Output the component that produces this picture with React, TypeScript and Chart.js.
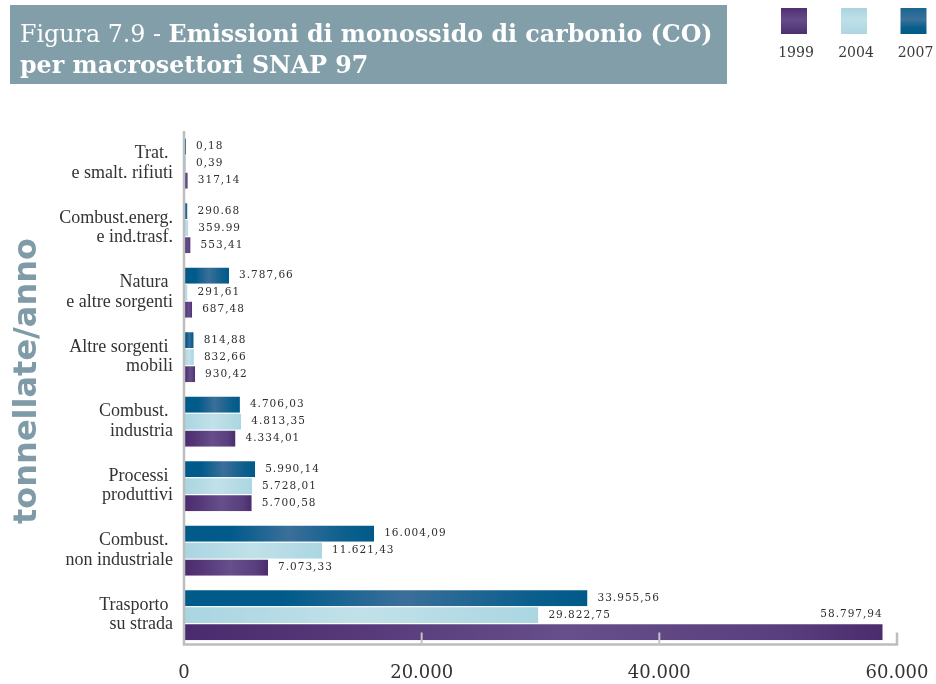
import React, { useEffect, useRef } from 'react';
import { Chart, registerables } from 'chart.js';

Chart.register(...registerables);

// ---------- data ----------
const CATEGORIES: string[][] = [
  ['Trat. ', 'e smalt. rifiuti'],
  ['Combust.energ.', 'e ind.trasf.'],
  ['Natura ', 'e altre sorgenti'],
  ['Altre sorgenti ', 'mobili'],
  ['Combust. ', 'industria'],
  ['Processi ', 'produttivi'],
  ['Combust. ', 'non industriale'],
  ['Trasporto ', 'su strada'],
];

const YEARS = ['1999', '2004', '2007'];

const VALUES_2007 = [0.18, 290.68, 3787.66, 814.88, 4706.03, 5990.14, 16004.09, 33955.56];
const VALUES_2004 = [0.39, 359.99, 291.61, 832.66, 4813.35, 5728.01, 11621.43, 29822.75];
const VALUES_1999 = [317.14, 553.41, 687.48, 930.42, 4334.01, 5700.58, 7073.33, 58797.94];

const LABELS_2007 = ['0,18', '290.68', '3.787,66', '814,88', '4.706,03', '5.990,14', '16.004,09', '33.955,56'];
const LABELS_2004 = ['0,39', '359.99', '291,61', '832,66', '4.813,35', '5.728,01', '11.621,43', '29.822,75'];
const LABELS_1999 = ['317,14', '553,41', '687,48', '930,42', '4.334,01', '5.700,58', '7.073,33', '58.797,94'];

const X_TICK_LABELS = ['0', '20.000', '40.000', '60.000'];

const TITLE_PREFIX = 'Figura 7.9 - ';
const TITLE_LINE1 = 'Emissioni di monossido di carbonio (CO)';
const TITLE_LINE2 = 'per macrosettori SNAP 97';
const Y_TITLE = 'tonnellate/anno';

// ---------- styles ----------
const STOPS_2007: [number, string][] = [[0, '#005a8a'], [0.25, '#005b8b'], [0.55, '#3b6f99'], [0.85, '#0c5f8d'], [1, '#005a89']];
const STOPS_2004: [number, string][] = [[0, '#a9d5e1'], [0.5, '#c1e1e9'], [1, '#abd6e1']];
const STOPS_1999: [number, string][] = [[0, '#4a2b6d'], [0.25, '#57397a'], [0.55, '#664f8a'], [0.85, '#5a3f7e'], [1, '#4b2c6e']];

function barGradient(stops: [number, string][]) {
  return (context: any) => {
    const chart = context.chart;
    const scales = chart.scales;
    if (!chart.chartArea || !scales || !scales.x || context.type !== 'data') return stops[0][1];
    const x0 = scales.x.getPixelForValue(0);
    const x1 = Math.max(scales.x.getPixelForValue(context.raw), x0 + 2);
    const g = chart.ctx.createLinearGradient(x0, 0, x1, 0);
    stops.forEach(([o, c]) => g.addColorStop(o, c));
    return g;
  };
}

const headerPlugin = {
  id: 'header',
  beforeDraw(chart: any) {
    const ctx = chart.ctx;
    ctx.save();
    // title box
    ctx.fillStyle = '#819ea9';
    ctx.fillRect(10, 5, 717, 79);
    // title text, fitted to the box width
    const target = 693;
    let size = 22;
    const measure = (s: number) => {
      ctx.font = `normal ${s}px "DejaVu Serif"`;
      const a = ctx.measureText(TITLE_PREFIX).width;
      ctx.font = `bold ${s}px "DejaVu Serif"`;
      const b = ctx.measureText(TITLE_LINE1).width;
      return a + b;
    };
    size = size * target / measure(size);
    ctx.fillStyle = '#ffffff';
    ctx.textBaseline = 'alphabetic';
    ctx.textAlign = 'left';
    ctx.font = `normal ${size}px "DejaVu Serif"`;
    ctx.fillText(TITLE_PREFIX, 20, 42);
    const pw = ctx.measureText(TITLE_PREFIX).width;
    ctx.font = `bold ${size}px "DejaVu Serif"`;
    ctx.fillText(TITLE_LINE1, 20 + pw, 42);
    ctx.fillText(TITLE_LINE2, 20, 73);

    // legend
    const legend = [
      { label: YEARS[0], stops: [[0, '#4e3072'], [0.45, '#654b8a'], [1, '#4d2f70']] },
      { label: YEARS[1], stops: [[0, '#a8d4e0'], [0.45, '#bfe0e8'], [1, '#acd6e1']] },
      { label: YEARS[2], stops: [[0, '#1a6590'], [0.45, '#3a729a'], [0.75, '#0a5e8c'], [1, '#005a89']] },
    ];
    const centers = [794, 854, 913.5];
    legend.forEach((item, i) => {
      const cx = centers[i];
      const g = ctx.createLinearGradient(0, 8, 0, 34);
      (item.stops as [number, string][]).forEach(([o, c]) => g.addColorStop(o, c));
      ctx.fillStyle = g;
      ctx.fillRect(cx - 13, 8, 26, 26);
      ctx.fillStyle = '#3a3a3a';
      ctx.font = '14px "DejaVu Serif"';
      ctx.textAlign = 'center';
      ctx.textBaseline = 'middle';
      ctx.fillText(item.label, cx + 2, 53);
    });

    // y axis title
    ctx.save();
    ctx.translate(36, 381);
    ctx.rotate(-Math.PI / 2);
    ctx.font = 'bold 32px "DejaVu Sans"';
    ctx.fillStyle = '#7f9ba8';
    ctx.textAlign = 'center';
    ctx.textBaseline = 'alphabetic';
    ctx.fillText(Y_TITLE, 0, 0);
    ctx.restore();

    ctx.restore();
  },
};

const framePlugin = {
  id: 'frame',
  afterDatasetsDraw(chart: any) {
    const { ctx, chartArea } = chart;
    const xs = chart.scales.x;
    const left = chartArea.left;
    const right = xs.getPixelForValue(60000);
    const bottom = chartArea.bottom - 2.5;
    ctx.save();
    ctx.strokeStyle = '#bdbdbd';
    ctx.lineWidth = 2.5;
    ctx.beginPath();
    ctx.moveTo(left, chartArea.top);
    ctx.lineTo(left, bottom);
    ctx.lineTo(right, bottom);
    ctx.lineTo(right, bottom - 12);
    ctx.stroke();
    ctx.strokeStyle = '#c4c4c4';
    ctx.lineWidth = 2;
    [20000, 40000].forEach((v) => {
      const x = xs.getPixelForValue(v);
      ctx.beginPath();
      ctx.moveTo(x, bottom);
      ctx.lineTo(x, bottom - 12);
      ctx.stroke();
    });
    ctx.restore();
  },
};

const ALL_LABELS = [LABELS_2007, LABELS_2004, LABELS_1999];

const valueLabelPlugin = {
  id: 'valueLabels',
  afterDatasetsDraw(chart: any) {
    const { ctx, chartArea } = chart;
    ctx.save();
    ctx.font = '10.5px "DejaVu Serif"';
    (ctx as any).letterSpacing = '1px';
    ctx.fillStyle = '#2e2e2e';
    ctx.textBaseline = 'middle';
    chart.data.datasets.forEach((_ds: any, di: number) => {
      const meta = chart.getDatasetMeta(di);
      meta.data.forEach((bar: any, j: number) => {
        const text = ALL_LABELS[di][j];
        const w = ctx.measureText(text).width;
        const { x, y, height } = bar.getProps(['x', 'y', 'height'], true);
        if (x + 10 + w > chartArea.right) {
          ctx.textAlign = 'right';
          ctx.fillText(text, x, y - height / 2 - 9);
        } else {
          ctx.textAlign = 'left';
          ctx.fillText(text, x + 10, y + 0.5);
        }
      });
    });
    ctx.restore();
  },
};

export default function App() {
  const canvasRef = useRef<HTMLCanvasElement | null>(null);

  useEffect(() => {
    const canvas = canvasRef.current;
    if (!canvas) return;
    const chart = new Chart(canvas, {
      type: 'bar',
      data: {
        labels: CATEGORIES,
        datasets: [
          { label: YEARS[2], data: VALUES_2007, backgroundColor: barGradient(STOPS_2007) as any },
          { label: YEARS[1], data: VALUES_2004, backgroundColor: barGradient(STOPS_2004) as any },
          { label: YEARS[0], data: VALUES_1999, backgroundColor: barGradient(STOPS_1999) as any },
        ],
      },
      options: {
        indexAxis: 'y',
        responsive: false,
        animation: false,
        layout: { padding: { top: 131, right: 39, left: 0, bottom: 0 } },
        datasets: {
          bar: {
            categoryPercentage: 0.79,
            barPercentage: 1,
            minBarLength: 2,
            borderWidth: { top: 1, bottom: 0, left: 0, right: 0 } as any,
            borderColor: '#ffffff',
            borderSkipped: false as any,
          },
        },
        plugins: {
          legend: { display: false },
          tooltip: { enabled: false },
          title: { display: false },
        },
        scales: {
          y: {
            grid: { display: false, drawTicks: false },
            border: { display: false },
            ticks: {
              font: { family: '"Liberation Serif"', size: 18, lineHeight: 1.1 },
              color: '#333333',
              padding: 11,
            },
            afterFit: (s: any) => {
              s.width = 184;
            },
          },
          x: {
            min: 0,
            max: 60000,
            grid: { display: false, drawTicks: false },
            border: { display: false },
            ticks: {
              stepSize: 20000,
              maxRotation: 0,
              autoSkip: false,
              font: { family: '"DejaVu Serif"', size: 18 },
              color: '#333333',
              padding: 16,
              callback: (_v: any, i: number) => X_TICK_LABELS[i],
            },
            afterFit: (s: any) => {
              s.height = 37;
              s.paddingLeft = 0;
              s.paddingRight = 0;
            },
          },
        },
      },
      plugins: [headerPlugin, framePlugin, valueLabelPlugin],
    });
    return () => chart.destroy();
  }, []);

  return (
    <div style={{ position: 'absolute', left: 0, top: 0, width: 936, height: 684 }}>
      <canvas ref={canvasRef} width={936} height={684} style={{ display: 'block' }} />
    </div>
  );
}
